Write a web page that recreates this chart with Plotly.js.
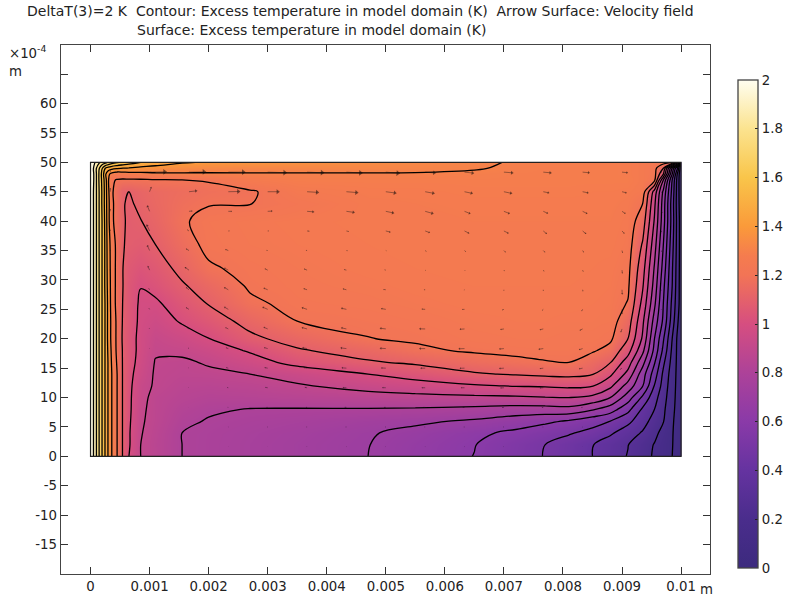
<!DOCTYPE html>
<html>
<head>
<meta charset="utf-8">
<script src="https://cdn.plot.ly/plotly-3.0.1.min.js"></script>
<style>html,body{margin:0;padding:0;background:#fff}</style>
</head>
<body>
<div id="chart" style="width:792px;height:596px"></div>
<script>
const titleLine1 = 'DeltaT(3)=2 K  Contour: Excess temperature in model domain (K)  Arrow Surface: Velocity field';
const titleLine2 = 'Surface: Excess temperature in model domain (K)';
const xTicks = [0,0.001,0.002,0.003,0.004,0.005,0.006,0.007,0.008,0.009,0.01];
const xTickLabels = ['0','0.001','0.002','0.003','0.004','0.005','0.006','0.007','0.008','0.009','0.01'];
const yTicks = [-15,-10,-5,0,5,10,15,20,25,30,35,40,45,50,55,60];
const yTickLabels = ['-15','-10','-5','0','5','10','15','20','25','30','35','40','45','50','55','60'];
const yExtraTicks = [65];
const barTicks = [0,0.2,0.4,0.6,0.8,1,1.2,1.4,1.6,1.8,2];

// grid positions: x in 1e-3 m, y in 1e-4 m
const xNodes = [0,.05,.1,.15,.2,.25,.3,.36,.45,.55,.65,.85,1.1,1.55,2,2.7,3.5,4.7,5.5,6.5,7.2,7.7,8.1,8.5,8.8,9.1,9.35,9.55,9.7,9.85,9.95,10];
const yNodes = [0,2,4,6,8,10,12,14,16,18,20,23,26,29,32,36,40,43,45,47,48,49,50];

// excess temperature (K), one row per yNodes entry
const temperature = [
[2,1.9,1.8,1.69,1.59,1.49,1.39,1.3,1.2,1.09,1.0,.9,.864,.8,.786,.763,.738,.7,.655,.598,.538,.496,.45,.4,.347,.295,.236,.188,.145,.1,.07,.05],
[2,1.9,1.8,1.69,1.59,1.49,1.39,1.3,1.2,1.09,1.01,.9,.86,.8,.786,.763,.738,.702,.66,.603,.543,.5,.456,.404,.354,.303,.244,.195,.149,.103,.07,.05],
[2,1.9,1.8,1.69,1.59,1.49,1.39,1.3,1.2,1.09,1.01,.905,.865,.8,.787,.767,.745,.708,.675,.62,.58,.54,.51,.47,.415,.35,.29,.225,.17,.105,.07,.05],
[2,1.9,1.8,1.69,1.59,1.49,1.39,1.3,1.2,1.09,1.015,.91,.873,.815,.795,.78,.765,.735,.717,.687,.65,.62,.59,.54,.5,.425,.34,.26,.205,.11,.07,.05],
[2,1.9,1.8,1.69,1.59,1.49,1.39,1.3,1.2,1.09,1.02,.915,.875,.83,.81,.797,.795,.795,.79,.775,.76,.76,.77,.71,.65,.53,.385,.3,.22,.12,.07,.05],
[2,1.9,1.8,1.69,1.59,1.49,1.39,1.3,1.2,1.09,1.02,.925,.875,.85,.835,.84,.85,.86,.87,.88,.885,.895,.9,.876,.8,.65,.48,.335,.24,.13,.07,.05],
[2,1.9,1.8,1.69,1.59,1.49,1.39,1.3,1.2,1.09,1.025,.93,.89,.862,.858,.868,.89,.935,.96,.99,1.005,1.01,1.02,1.005,.925,.76,.605,.395,.26,.14,.07,.05],
[2,1.9,1.8,1.69,1.59,1.49,1.39,1.3,1.2,1.09,1.03,.95,.89,.878,.882,.9,.94,1.0,1.04,1.09,1.108,1.12,1.125,1.105,1.02,.87,.645,.45,.28,.15,.07,.05],
[2,1.9,1.8,1.69,1.59,1.49,1.39,1.29,1.19,1.09,1.04,.965,.895,.885,.91,.96,1.03,1.09,1.115,1.16,1.18,1.195,1.2,1.15,1.105,.95,.735,.51,.32,.165,.07,.05],
[2,1.9,1.8,1.69,1.59,1.49,1.38,1.28,1.18,1.09,1.04,.975,.91,.92,.95,1.01,1.09,1.14,1.185,1.21,1.22,1.225,1.225,1.21,1.17,1.04,.825,.57,.375,.18,.07,.05],
[2,1.9,1.8,1.69,1.59,1.49,1.37,1.27,1.18,1.085,1.04,.975,.923,.953,.998,1.08,1.135,1.198,1.21,1.23,1.235,1.235,1.23,1.23,1.215,1.1,.885,.6,.41,.2,.07,.05],
[2,1.9,1.8,1.69,1.59,1.49,1.37,1.27,1.18,1.09,1.05,.98,.955,1.01,1.054,1.13,1.2,1.215,1.225,1.24,1.245,1.245,1.24,1.24,1.235,1.15,.92,.66,.48,.25,.1,.05],
[2,1.9,1.8,1.69,1.59,1.49,1.37,1.26,1.17,1.095,1.05,.985,.985,1.05,1.105,1.185,1.222,1.23,1.24,1.25,1.25,1.25,1.25,1.245,1.24,1.195,.97,.72,.5,.275,.125,.05],
[2,1.9,1.8,1.69,1.59,1.48,1.36,1.26,1.17,1.1,1.05,1.003,1.03,1.09,1.14,1.21,1.23,1.24,1.25,1.255,1.255,1.255,1.255,1.25,1.245,1.215,1.01,.76,.525,.3,.13,.05],
[2,1.9,1.8,1.69,1.59,1.48,1.35,1.26,1.17,1.1,1.06,1.035,1.06,1.125,1.19,1.22,1.235,1.25,1.255,1.26,1.26,1.26,1.26,1.255,1.25,1.225,1.04,.79,.56,.31,.135,.05],
[2,1.9,1.8,1.69,1.59,1.48,1.34,1.26,1.17,1.105,1.085,1.075,1.1,1.165,1.22,1.235,1.245,1.255,1.26,1.265,1.265,1.265,1.265,1.26,1.26,1.24,1.09,.84,.6,.335,.14,.05],
[2,1.9,1.8,1.69,1.59,1.47,1.33,1.22,1.16,1.11,1.085,1.098,1.125,1.19,1.225,1.24,1.25,1.26,1.26,1.265,1.265,1.265,1.265,1.265,1.265,1.25,1.15,.89,.64,.355,.14,.05],
[2,1.9,1.8,1.69,1.58,1.46,1.33,1.22,1.16,1.105,1.09,1.115,1.14,1.175,1.195,1.198,1.225,1.26,1.265,1.27,1.27,1.27,1.27,1.27,1.27,1.26,1.2,.92,.65,.35,.13,.04],
[2,1.9,1.8,1.69,1.58,1.46,1.32,1.215,1.155,1.105,1.1,1.125,1.145,1.165,1.18,1.19,1.25,1.27,1.27,1.28,1.28,1.28,1.28,1.275,1.275,1.27,1.25,.96,.68,.37,.13,.03],
[2,1.91,1.8,1.68,1.57,1.45,1.31,1.21,1.195,1.19,1.19,1.19,1.195,1.2,1.205,1.26,1.285,1.285,1.285,1.285,1.285,1.285,1.285,1.285,1.285,1.285,1.26,1.22,.8,.4,.135,.02],
[2,1.91,1.8,1.68,1.56,1.42,1.32,1.27,1.24,1.25,1.26,1.27,1.285,1.29,1.29,1.295,1.295,1.295,1.295,1.29,1.285,1.285,1.285,1.285,1.285,1.28,1.26,1.23,1.0,.5,.15,.02],
[2,1.9,1.8,1.7,1.6,1.5,1.46,1.43,1.41,1.4,1.39,1.37,1.35,1.34,1.33,1.32,1.32,1.32,1.315,1.305,1.29,1.285,1.285,1.285,1.285,1.28,1.26,1.23,1.1,.6,.25,.03],
[2,1.93,1.87,1.81,1.76,1.73,1.69,1.65,1.61,1.575,1.55,1.5,1.47,1.41,1.39,1.38,1.365,1.345,1.33,1.31,1.295,1.29,1.29,1.285,1.285,1.28,1.26,1.25,1.24,1.2,.8,.03]
];

const colorStops = [[0,'#3c2a7e'],[.1,'#4a2d8c'],[.2,'#6533a0'],[.3,'#8a3aa8'],[.4,'#ad4299'],[.5,'#d64e80'],[.6,'#f27456'],[.64,'#f57c4e'],[.7,'#fa9a3a'],[.8,'#f9c54a'],[.9,'#fbe38f'],[1,'#fffef0']];

// arrow tails (x in 1e-3 m, y in 1e-4 m), rows top to bottom
const arrowXs = [.333,1,1.667,2.333,3,3.667,4.333,5,5.667,6.333,7,7.667,8.333,9,9.667];
const arrowYs = [48.33,45,41.67,38.33,35,31.67,28.33,25,21.67,18.33,15,11.67,8.33,5,1.67];
// arrow components as drawn on the reference, in pixels
const arrowU = [
[.3,15,15,15,17,15,14,12,9,8,8,7,6,5,.3],
[.3,1.5,7,10,10,10,10,9,8,7,7,5,5,4,.2],
[.2,-2,3,3,4,6,7,7,7,5,5,4,4,3,1],
[.1,-2.5,-1.5,1,1,2,2,4,4,4,4,3,3,2,.1],
[.1,-2,-2.5,-2.5,-1,-1,1,.5,1,1.2,1.5,1.5,1,.5,0],
[0,-1.5,-3.5,-3.5,-2.5,-2.5,-2,-1,.5,.5,.5,.7,.5,.3,0],
[0,-.7,-2.5,-3.5,-3.5,-3,-3,-2,-1,-.5,0,0,.3,.2,0],
[0,-.5,-2.5,-3.5,-4.5,-4.5,-4.5,-4,-3,-2,-1.5,-1,-.8,0,0],
[0,-.3,-1.5,-2.5,-3.5,-4.5,-4.5,-5,-5,-4,-3,-3,-2.5,-1,0],
[0,-.2,-.7,-2,-3,-4,-5,-5,-5,-5,-4,-4,-3,-1.2,0],
[0,0,-.3,-1.8,-2.7,-3,-4,-4,-4,-4,-4,-3,-3,-1.5,0],
[0,0,-.2,-1,-2,-2,-3,-3,-3,-3,-3,-3,-2,-1,0],
[0,0,-.1,-.5,-1,-1,-1.5,-1.5,-1.5,-1.5,-1.5,-1.2,-1,-.5,0],
[0,0,0,-.2,-.4,-.5,-.6,-.6,-.6,-.6,-.6,-.5,-.4,-.2,0],
[0,0,0,-.1,-.1,-.2,-.2,-.2,-.2,-.2,-.2,-.2,-.1,-.1,0]
];
const arrowV = [
[1.5,.3,.2,0,-.5,-.6,-.8,-1,-.8,-.8,-.6,-.6,-.5,-.5,-.5],
[3,4,.8,.2,0,-.6,-.8,-1.2,-1.5,-1.5,-1.5,-1,-1,-1,-.8],
[2,5,.3,0,.2,-.5,-1,-1.5,-2,-2,-2,-1.8,-2,-2,-1],
[1,5.5,1,0,0,-.2,-.5,-1,-1.5,-2,-2,-2.5,-2.5,-2.2,-1],
[.5,4.5,1.5,1,.2,.2,-.2,-.3,-.8,-1,-1.5,-1.5,-1.5,-2,-1],
[.5,3.5,2.5,1.8,1.2,1,.5,.2,-.3,-.5,-.8,-1,-1.2,-2.8,-.5],
[.3,1.2,2,2,1.5,1,.8,.3,0,-.3,-.8,-1,-1.3,-4,-.5],
[.2,.8,1.5,2,2,1.5,1,.7,.2,-.1,-.6,-.8,-1.5,-4,-.5],
[.1,.5,1,1.2,1.5,1.2,1,.6,.1,-.3,-.5,-.7,-1.2,-2.8,-.3],
[0,.1,.5,.7,.8,.8,.6,.3,0,-.2,-.4,-.6,-1,-1.5,-.3],
[0,0,.2,.5,.5,.5,.3,.2,0,-.1,-.3,-.4,-.6,-1,-.2],
[0,0,.1,.2,.3,.3,.2,.1,0,0,-.2,-.2,-.3,-.5,-.1],
[0,0,0,.1,.1,.1,.1,0,0,0,-.1,-.1,-.1,-.3,0],
[0,0,0,0,0,0,0,0,0,0,0,0,-.1,-.1,0],
[0,0,0,0,0,0,0,0,0,0,0,0,0,0,0]
];

const xm = xNodes.map(v => v * 1e-3);

// A hair-thin extra row/column at each edge keeps the smooth image inside the domain.
const eps = 1e-7;
const imgX = [xm[0] - eps, ...xm, xm[xm.length - 1] + eps];
const imgY = [yNodes[0] - 1e-4, ...yNodes, yNodes[yNodes.length - 1] + 1e-4];
const padRow = r => [r[0], ...r, r[r.length - 1]];
const imgZ = [padRow(temperature[0]), ...temperature.map(padRow), padRow(temperature[temperature.length - 1])];

// arrows
const unitX = 1e-3 / 59.05, unitY = 1 / 5.883;
const segX = [], segY = [], tipX = [], tipY = [], tipAngle = [], tipSize = [];
arrowYs.forEach((ay, r) => arrowXs.forEach((ax, c) => {
  const u = arrowU[r][c], v = arrowV[r][c], m = Math.hypot(u, v);
  if (m < 0.05) return;
  const x0 = ax * 1e-3, x1 = x0 + u * unitX, y1 = ay + v * unitY;
  segX.push(x0, x1, null); segY.push(ay, y1, null);
  tipX.push(x1); tipY.push(y1);
  tipAngle.push(Math.atan2(u, v) * 180 / Math.PI);
  tipSize.push(Math.min(5, 0.4 * m + 0.3));
}));

const traces = [
  {type:'heatmap', x:imgX, y:imgY, z:imgZ, zsmooth:'best', zmin:0, zmax:2, colorscale:colorStops, hoverinfo:'skip',
   colorbar:{x:(738-61)/649, xanchor:'left', xref:'paper', thickness:20, thicknessmode:'pixels', xpad:0, ypad:0,
     len:488, lenmode:'pixels', y:(574-568)/529, yanchor:'bottom', yref:'paper',
     outlinecolor:'#444', outlinewidth:1.3, tickvals:barTicks, ticktext:barTicks.map(String),
     ticks:'inside', ticklen:3, tickcolor:'#222', tickwidth:1, tickfont:{family:'DejaVu Sans', size:13.3, color:'#222'}, ticklabelposition:'outside'}},
  {type:'contour', x:xm, y:yNodes, z:temperature, showscale:false, hoverinfo:'skip', autocontour:false,
   contours:{start:.1, end:1.9, size:.1, coloring:'lines'},
   colorscale:[[0,'#000'],[1,'#000']], line:{color:'#000', width:1.3, smoothing:1}},
  {type:'scatter', mode:'lines', x:segX, y:segY, connectgaps:false, hoverinfo:'skip', showlegend:false,
   line:{color:'rgba(20,20,20,.6)', width:.7}},
  {type:'scatter', mode:'markers', x:tipX, y:tipY, hoverinfo:'skip', showlegend:false,
   marker:{symbol:'triangle-up', angle:tipAngle, size:tipSize, color:'rgba(10,10,10,.75)', line:{width:0}}}
];

const shapes = [
  {type:'rect', xref:'x', yref:'y', x0:0, x1:.01, y0:0, y1:50, line:{color:'#222', width:1.2}, layer:'above'}
].concat(barTicks.slice(1,-1).map(t => ({
  type:'line', xref:'paper', yref:'paper',
  x0:(738-61)/649, x1:(741-61)/649,
  y0:(574-(568-488*t/2))/529, y1:(574-(568-488*t/2))/529,
  line:{color:'#222', width:1}
})));

const layout = {
  width:792, height:596, paper_bgcolor:'#fff', plot_bgcolor:'#fff', hovermode:false, showlegend:false,
  margin:{l:61, r:82, t:45, b:22, pad:0, autoexpand:false},
  font:{family:'DejaVu Sans', size:13.3, color:'#222'},
  title:{text:titleLine1, x:27/792, xanchor:'left', xref:'container', y:1-11/596, yanchor:'middle', yref:'container',
         font:{family:'DejaVu Sans', size:14, color:'#222'}},
  xaxis:{range:[-0.0005,0.01049], tickvals:xTicks, ticktext:xTickLabels, ticks:'inside', ticklen:7, tickwidth:1,
         tickcolor:'#333', showline:true, linecolor:'#444', linewidth:1.3, mirror:'ticks', showgrid:false, zeroline:false,
         tickangle:0},
  yaxis:{range:[-20,69.95], tickvals:yTicks, ticktext:yTickLabels, ticks:'inside', ticklen:7, tickwidth:1,
         tickcolor:'#333', showline:true, linecolor:'#444', linewidth:1.3, mirror:'ticks', showgrid:false, zeroline:false,
         minor:{tickvals:yExtraTicks, ticks:'inside', ticklen:7, tickwidth:1, tickcolor:'#333', showgrid:false}},
  shapes:shapes,
  annotations:[
    {text:titleLine2, xref:'paper', yref:'paper', x:(135-61)/649, y:(574-30)/529, xanchor:'left', yanchor:'middle', showarrow:false, font:{size:14}},
    {text:'×10<sup>-4</sup>', xref:'paper', yref:'paper', x:(7-61)/649, y:(574-52)/529, xanchor:'left', yanchor:'middle', showarrow:false, font:{size:13.3}},
    {text:'m', xref:'paper', yref:'paper', x:(7-61)/649, y:(574-71)/529, xanchor:'left', yanchor:'middle', showarrow:false, font:{size:13.3}},
    {text:'m', xref:'paper', yref:'paper', x:(698-61)/649, y:(574-589)/529, xanchor:'left', yanchor:'middle', showarrow:false, font:{size:13.3}}
  ]
};

Plotly.newPlot('chart', traces, layout, {staticPlot:true, displayModeBar:false});
</script>
</body>
</html>
